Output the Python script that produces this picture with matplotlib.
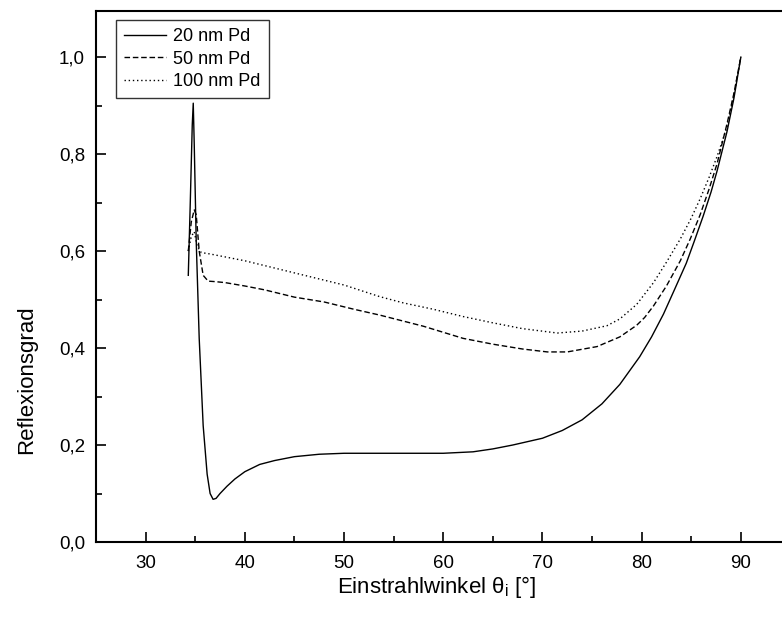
import matplotlib.pyplot as plt
from matplotlib.ticker import MultipleLocator, FuncFormatter

# 20 nm Pd
x20 = [34.3, 34.5, 34.7, 34.8, 34.9, 35.1, 35.4, 35.8, 36.2, 36.5, 36.8, 37.1, 37.5,
       38.2, 39.0, 40.0, 41.5, 43.0, 45.0, 47.5, 50.0, 55.0, 60.0, 63.0, 65.0, 67.0,
       70.0, 72.0, 74.0, 76.0, 77.8, 79.8, 81.0, 82.2, 83.3, 84.5, 85.3, 86.2, 87.0,
       87.6, 88.6, 89.3, 90.0]
y20 = [0.55, 0.70, 0.86, 0.905, 0.82, 0.62, 0.42, 0.24, 0.14, 0.10, 0.088, 0.09, 0.10,
       0.115, 0.13, 0.145, 0.16, 0.168, 0.176, 0.181, 0.183, 0.183, 0.183, 0.186, 0.192, 0.20,
       0.214, 0.23, 0.252, 0.285, 0.325, 0.382, 0.423, 0.47, 0.52, 0.575, 0.62, 0.672, 0.722,
       0.765, 0.846, 0.915, 1.0]

# 50 nm Pd
x50 = [34.3, 34.6, 34.9, 35.1, 35.4, 35.8, 36.3, 37.0, 38.0, 40.0, 42.0, 45.0, 48.0,
       51.0, 53.6, 58.0, 62.0, 65.0, 68.0, 70.5, 72.5, 75.5, 77.8, 79.5, 80.3, 81.2,
       82.5, 83.9, 84.9, 85.9, 86.8, 87.6, 88.6, 89.3, 90.0]
y50 = [0.60, 0.66, 0.685, 0.675, 0.60, 0.55, 0.538, 0.537, 0.535, 0.528, 0.52, 0.505, 0.495,
       0.48, 0.468, 0.445, 0.42, 0.408, 0.398, 0.392, 0.392, 0.403, 0.423, 0.447, 0.463, 0.487,
       0.528, 0.58, 0.625, 0.675, 0.728, 0.78, 0.862, 0.925, 1.0]

# 100 nm Pd
x100 = [34.3, 34.6, 34.9, 35.2, 35.6, 36.5, 38.0, 40.0, 42.0, 45.0, 48.0, 50.0, 53.6,
        56.0, 59.0, 62.0, 65.0, 68.0, 71.5, 74.0, 76.5, 77.8, 79.5, 81.2, 82.5, 83.9,
        85.0, 85.9, 86.8, 87.6, 88.6, 89.3, 90.0]
y100 = [0.60, 0.63, 0.64, 0.61, 0.597, 0.594, 0.588, 0.58, 0.57, 0.555, 0.54, 0.53, 0.506,
        0.493, 0.48, 0.465, 0.452, 0.44, 0.431, 0.435, 0.446, 0.46, 0.49, 0.535, 0.577, 0.625,
        0.668, 0.708, 0.752, 0.795, 0.855, 0.922, 1.0]

plt.rcParams['font.family'] = ['Liberation Sans', 'DejaVu Sans']

fig = plt.figure(figsize=(7.82, 6.21), dpi=100)
ax = fig.add_axes([0.1228, 0.1272, 0.888, 0.855])

ax.plot(x20, y20, color='black', linestyle='-', linewidth=1.0, label='20 nm Pd')
ax.plot(x50, y50, color='black', linestyle=(0, (4, 2)), linewidth=1.0, label='50 nm Pd')
ax.plot(x100, y100, color='black', linestyle=(0, (1, 2)), linewidth=1.0, label='100 nm Pd')

ax.set_xlim(25, 95)
ax.set_ylim(0, 1.095)
ax.xaxis.set_major_locator(MultipleLocator(10))
ax.xaxis.set_minor_locator(MultipleLocator(5))
ax.yaxis.set_major_locator(MultipleLocator(0.2))
ax.yaxis.set_minor_locator(MultipleLocator(0.1))
ax.yaxis.set_major_formatter(FuncFormatter(lambda v, p: f'{v:.1f}'.replace('.', ',')))
ax.tick_params(which='both', direction='in', labelsize=13.5, width=1.2)
ax.tick_params(which='major', length=7)
ax.tick_params(which='minor', length=4)
ax.tick_params(axis='x', pad=9)
ax.tick_params(axis='y', pad=8)
for s in ax.spines.values():
    s.set_linewidth(1.5)

ax.set_xlabel(r'Einstrahlwinkel $\mathregular{\theta_i}$ [°]', fontsize=16)
ax.set_ylabel('Reflexionsgrad', fontsize=16)
ax.xaxis.set_label_coords(0.49, -0.06)
ax.yaxis.set_label_coords(-0.085, 0.305)

leg = ax.legend(loc='upper left', bbox_to_anchor=(0.029, 0.983), borderaxespad=0,
                fontsize=13, frameon=True, fancybox=False, edgecolor='black',
                handlelength=2.3, borderpad=0.45, labelspacing=0.3, handletextpad=0.4)
leg.get_frame().set_linewidth(1.0)

fig.savefig('out.png', dpi=100)
